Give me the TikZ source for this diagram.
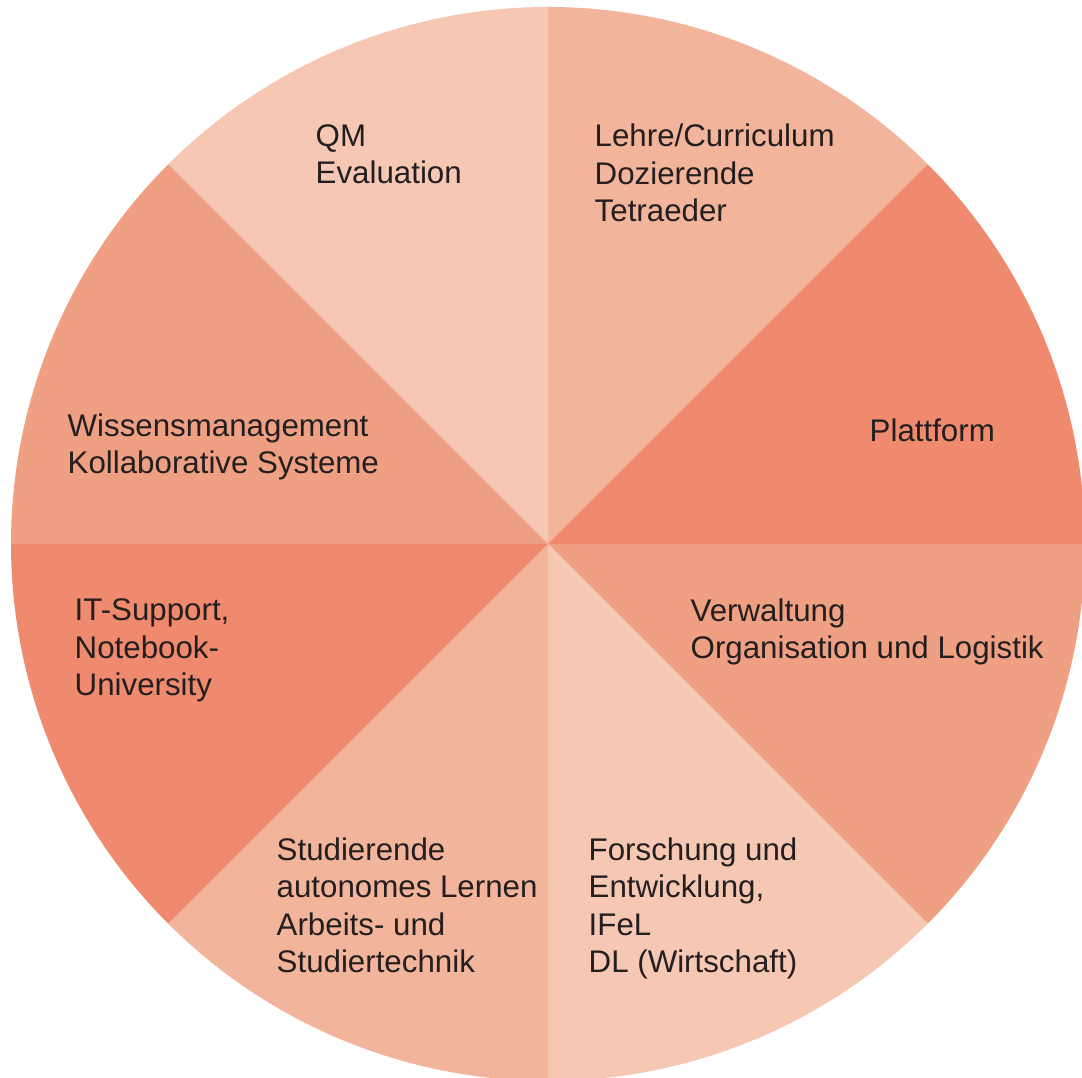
\documentclass[tikz,border=0pt]{standalone}
\usepackage{fontspec}
\setmainfont{Liberation Sans}
\definecolor{segA}{HTML}{F6C8B3}
\definecolor{segB}{HTML}{F2B49B}
\definecolor{segC}{HTML}{EFA083}
\definecolor{segD}{HTML}{EF8A6E}
\definecolor{ink}{HTML}{231F20}
\begin{document}
\begin{tikzpicture}[
  lbl/.style={anchor=base west,inner sep=0pt,align=left,text=ink,
    font=\fontsize{8.9}{10.7}\selectfont}]
\useasboundingbox (0,0) rectangle (10.82,10.78);
            % Sectors
\coordinate (O) at (5.48,5.34);
\def\rad{5.37}
\fill[segA] (O) -- ++(90:\rad)  arc[start angle=90, end angle=135,radius=\rad] -- cycle;%QM
\fill[segB] (O) -- ++(45:\rad)  arc[start angle=45, end angle=90, radius=\rad] -- cycle;%Lehre
\fill[segD] (O) -- ++(0:\rad)   arc[start angle=0,  end angle=45, radius=\rad] -- cycle;%Plattform
\fill[segC] (O) -- ++(-45:\rad) arc[start angle=-45,end angle=0,  radius=\rad] -- cycle;%Verwaltung
\fill[segA] (O) -- ++(-90:\rad) arc[start angle=-90,end angle=-45,radius=\rad] -- cycle;%Forschung
\fill[segB] (O) -- ++(-135:\rad)arc[start angle=-135,end angle=-90,radius=\rad] -- cycle;%Studierende
\fill[segD] (O) -- ++(180:\rad) arc[start angle=180,end angle=225,radius=\rad] -- cycle;%IT
\fill[segC] (O) -- ++(135:\rad) arc[start angle=135,end angle=180,radius=\rad] -- cycle;%Wissen
            % Labels (placed at the baseline of their last line)
\node[lbl] (qm)     at (3.15,8.94) {QM\\Evaluation};
\node[lbl] (lehre)  at (5.94,8.56) {Lehre/Curriculum\\Dozierende\\Tetraeder};
\node[lbl] (platt)  at (8.69,6.36) {Plattform};
\node[lbl] (verw)   at (6.90,4.19) {Verwaltung\\Organisation und Logistik};
\node[lbl] (wissen) at (0.67,6.04) {Wissensmanagement\\Kollaborative Systeme};
\node[lbl] (it)     at (0.74,3.82) {IT-Support,\\Notebook-\\University};
\node[lbl] (stud)   at (2.76,1.05) {Studierende\\autonomes Lernen\\Arbeits- und\\Studiertechnik};
\node[lbl] (forsch) at (5.88,1.05) {Forschung und\\Entwicklung,\\IFeL\\DL (Wirtschaft)};
\end{tikzpicture}
\end{document}
